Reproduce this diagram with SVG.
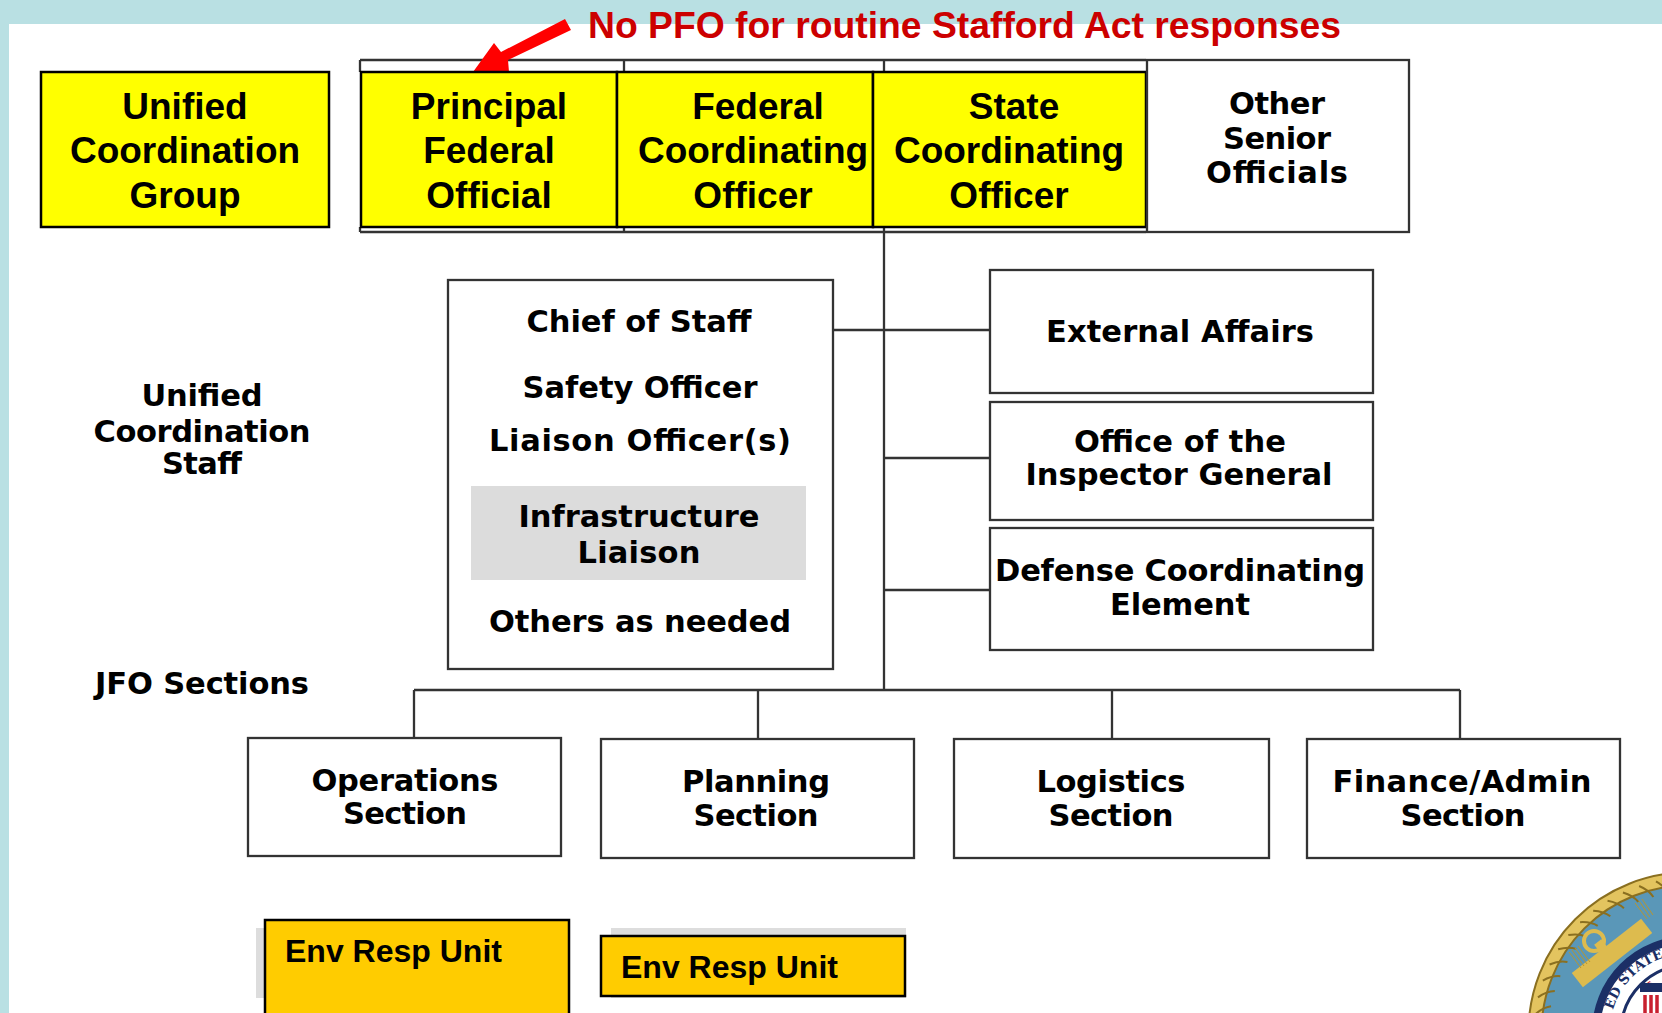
<svg xmlns="http://www.w3.org/2000/svg" width="1662" height="1013" viewBox="0 0 1662 1013">
<style>
.y{fill:#FFFF00;stroke:#000;stroke-width:2.5}
.o{fill:#FFCC00;stroke:#000;stroke-width:2.5}
.w{fill:#fff;stroke:#333;stroke-width:2.3}
.l{fill:none;stroke:#333;stroke-width:2.3}
.a{font-family:"Liberation Sans",Arial,sans-serif;font-weight:700;fill:#000;font-size:37px;text-anchor:middle}
.d{font-family:"DejaVu Sans",Verdana,sans-serif;font-weight:700;fill:#000;font-size:30.5px;text-anchor:middle}
.e{font-family:"Liberation Sans",Arial,sans-serif;font-weight:700;fill:#000;font-size:32px}
.r{font-family:"Liberation Sans",Arial,sans-serif;font-weight:700;fill:#CC0000;font-size:37.3px}
</style>
<defs>
<path id="strand" d="M1534 1032 q7 -8 15 -10" fill="none" stroke="#8A6F20" stroke-width="2"/>
<path id="sealarc" d="M1613 1010 A78 78 0 0 1 1688 954"/>
<path id="redarc" d="M1646 991 A58 58 0 0 1 1688 974"/>
</defs>
<rect width="1662" height="1013" fill="#fff"/>
<rect width="1662" height="24" fill="#B9E0E3"/>
<rect width="9" height="1013" fill="#B9E0E3"/>

<g id="seal">
<circle cx="1688" cy="1032" r="153" fill="#5A97B8" stroke="#8A6F20" stroke-width="15"/>
<circle cx="1688" cy="1032" r="153" fill="none" stroke="#E3C45F" stroke-width="11"/>
<g>
<use href="#strand"/><use href="#strand" transform="rotate(6.5 1688 1032)"/><use href="#strand" transform="rotate(13 1688 1032)"/><use href="#strand" transform="rotate(19.5 1688 1032)"/><use href="#strand" transform="rotate(26 1688 1032)"/><use href="#strand" transform="rotate(32.5 1688 1032)"/><use href="#strand" transform="rotate(39 1688 1032)"/><use href="#strand" transform="rotate(45.5 1688 1032)"/><use href="#strand" transform="rotate(52 1688 1032)"/><use href="#strand" transform="rotate(58.5 1688 1032)"/><use href="#strand" transform="rotate(65 1688 1032)"/><use href="#strand" transform="rotate(71.5 1688 1032)"/><use href="#strand" transform="rotate(78 1688 1032)"/><use href="#strand" transform="rotate(84.5 1688 1032)"/>
</g>
<g>
<circle cx="1594" cy="941" r="10" fill="none" stroke="#DDBB4E" stroke-width="4"/>
<rect x="1597" y="941" width="9" height="11" fill="#DDBB4E" transform="rotate(-38 1601 947)"/>
<rect x="1568" y="944" width="88" height="18" fill="#DDBB4E" transform="rotate(-38 1612 953)"/>
<path d="M1576 968 1564 952M1579 966 1567 950M1582 964 1570 948M1585 962 1573 946M1642 919 1630 903M1645 917 1634 901M1648 915 1637 899" stroke="#B8962F" stroke-width="1" fill="none" transform="translate(5 0)"/>
</g>
<circle cx="1688" cy="1032" r="92" fill="#fff" stroke="#1B2F66" stroke-width="8"/>
<text font-family="'DejaVu Serif',serif" font-weight="700" font-size="13.5" fill="#1B2F66"><textPath href="#sealarc">ED STATES</textPath></text>
<circle cx="1688" cy="1032" r="67" fill="#fff" stroke="#1B2F66" stroke-width="3"/>
<text font-family="'DejaVu Sans',sans-serif" font-weight="700" font-size="7" fill="#C8202F"><textPath href="#redarc">SE</textPath></text>
<rect x="1640" y="983" width="22" height="9" fill="#1B2F66"/>
<rect x="1642" y="992" width="20" height="21" fill="#fff"/>
<path d="M1645 995v18M1651 995v18M1657 995v18" stroke="#C8202F" stroke-width="3.5"/>
</g>

<g id="connectors">
<path class="l" d="M360 60H1146M360 232H1146M360 60V72M360 227V232M624 60V72M624 227V232M884 60V690M833 330H989M884 458H989M884 590H989M414 690H1460M414 690V738M758 690V739M1112 690V739M1460 690V739"/>
<path id="arrow" fill="#FF0000" d="M565 19 571 30 508 60 509 72 473 72 494 43 501 52Z"/>
</g>

<g id="ucg"><rect class="y" x="41" y="72" width="288" height="155"/><text class="a" x="185" y="119">Unified</text><text class="a" x="185" y="163">Coordination</text><text class="a" x="185" y="208">Group</text></g>
<g id="pfo"><rect class="y" x="361" y="72" width="256" height="155"/><text class="a" x="489" y="119">Principal</text><text class="a" x="489" y="163">Federal</text><text class="a" x="489" y="208">Official</text></g>
<g id="fco"><rect class="y" x="617" y="72" width="256" height="155"/><text class="a" x="758" y="119">Federal</text><text class="a" x="753" y="163">Coordinating</text><text class="a" x="753" y="208">Officer</text></g>
<g id="sco"><rect class="y" x="873" y="72" width="273" height="155"/><text class="a" x="1014" y="119">State</text><text class="a" x="1009" y="163">Coordinating</text><text class="a" x="1009" y="208">Officer</text></g>
<g id="other"><rect class="w" x="1147" y="60" width="262" height="172"/><text class="d" x="1277" y="114" textLength="96">Other</text><text class="d" x="1277" y="149" textLength="108">Senior</text><text class="d" x="1277" y="183" textLength="142">Officials</text></g>

<text id="pfo-note" class="r" x="588" y="38">No PFO for routine Stafford Act responses</text>

<g id="staff-label"><text class="d" x="202" y="406" textLength="121">Unified</text><text class="d" x="202" y="442" textLength="217">Coordination</text><text class="d" x="202" y="474" textLength="80">Staff</text></g>
<g id="jfo-label"><text class="d" x="202" y="694" textLength="214">JFO Sections</text></g>

<g id="staff"><rect class="w" x="448" y="280" width="385" height="389"/>
<rect x="471" y="486" width="335" height="94" fill="#DCDCDC"/>
<text class="d" x="639" y="332" textLength="225">Chief of Staff</text><text class="d" x="640" y="398" textLength="235">Safety Officer</text><text class="d" x="640" y="451" textLength="302">Liaison Officer(s)</text><text class="d" x="639" y="527" textLength="241">Infrastructure</text><text class="d" x="639" y="563" textLength="123">Liaison</text><text class="d" x="640" y="632" textLength="302">Others as needed</text></g>

<g id="external"><rect class="w" x="990" y="270" width="383" height="123"/><text class="d" x="1180" y="342" textLength="268">External Affairs</text></g>
<g id="oig"><rect class="w" x="990" y="402" width="383" height="118"/><text class="d" x="1180" y="452" textLength="212">Office of the</text><text class="d" x="1179" y="485" textLength="307">Inspector General</text></g>
<g id="dce"><rect class="w" x="990" y="528" width="383" height="122"/><text class="d" x="1180" y="581" textLength="370">Defense Coordinating</text><text class="d" x="1180" y="615" textLength="140">Element</text></g>

<g id="ops"><rect class="w" x="248" y="738" width="313" height="118"/><text class="d" x="405" y="791" textLength="187">Operations</text><text class="d" x="405" y="824" textLength="124">Section</text></g>
<g id="plan"><rect class="w" x="601" y="739" width="313" height="119"/><text class="d" x="756" y="792" textLength="148">Planning</text><text class="d" x="756" y="826" textLength="125">Section</text></g>
<g id="log"><rect class="w" x="954" y="739" width="315" height="119"/><text class="d" x="1111" y="792" textLength="149">Logistics</text><text class="d" x="1111" y="826" textLength="125">Section</text></g>
<g id="fin"><rect class="w" x="1307" y="739" width="313" height="119"/><text class="d" x="1462" y="792" textLength="259">Finance/Admin</text><text class="d" x="1463" y="826" textLength="125">Section</text></g>

<g id="env1"><rect x="256" y="928" width="20" height="70" fill="#DDDDDD"/><rect class="o" x="265" y="920" width="304" height="100"/><text class="e" x="285" y="962">Env Resp Unit</text></g>
<g id="env2"><rect x="611" y="928" width="295" height="70" fill="#DDDDDD"/><rect class="o" x="601" y="936" width="304" height="60"/><text class="e" x="621" y="978">Env Resp Unit</text></g>
</svg>
